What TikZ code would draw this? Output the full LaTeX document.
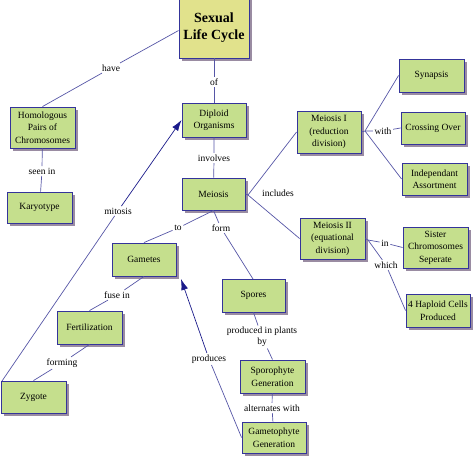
\documentclass[tikz,border=0pt]{standalone}
\usepackage{fontspec}
\setmainfont{Liberation Serif}
\usetikzlibrary{shadows,arrows.meta}
\definecolor{boxgreen}{HTML}{C5DF8D}
\definecolor{boxyellow}{HTML}{E1E28C}
\definecolor{boxborder}{HTML}{34349A}
\definecolor{linkline}{HTML}{5656A6}
\definecolor{shadowc}{HTML}{9A8CA2}
\definecolor{arrowc}{HTML}{1A1A8A}
\tikzset{
  concept/.style={draw=boxborder, line width=0.9pt, fill=boxgreen, align=center,
    font=\fontsize{9.5}{12.5}\selectfont, inner sep=1pt,
    drop shadow={shadow xshift=3pt, shadow yshift=-3pt, fill=shadowc, opacity=1}},
  linklabel/.style={font=\fontsize{9.5}{11}\selectfont, inner sep=1.5pt, align=center},
  link/.style={draw=linkline, line width=0.7pt},
  arrowlink/.style={link, -{Latex[length=11pt,width=7pt]}, arrowc},
}
\begin{document}
\begin{tikzpicture}[x=1pt,y=-1pt]
\useasboundingbox (0,0) rectangle (474,458);
% concepts
\node[concept, fill=boxyellow, minimum width=70pt, minimum height=61pt,
  font=\fontsize{14}{17}\selectfont\bfseries] (slc) at (214,27.5) {Sexual\\Life Cycle};
\node[concept, minimum width=65pt, minimum height=41pt] (hom) at (42.5,127.5) {Homologous\\Pairs of\\Chromosomes};
\node[concept, minimum width=65pt, minimum height=31pt] (kar) at (39.5,207.5) {Karyotype};
\node[concept, minimum width=64pt, minimum height=34pt] (dip) at (214,120) {Diploid\\Organisms};
\node[concept, minimum width=63pt, minimum height=32pt] (mei) at (213.5,194) {Meiosis};
\node[concept, minimum width=64pt, minimum height=42pt] (m1) at (329,132) {Meiosis I\\(reduction\\division)};
\node[concept, minimum width=65pt, minimum height=33pt] (syn) at (431.5,75.5) {Synapsis};
\node[concept, minimum width=64pt, minimum height=32pt] (cro) at (433,128) {Crossing Over};
\node[concept, minimum width=65pt, minimum height=32pt] (ind) at (434.5,179) {Independant\\Assortment};
\node[concept, minimum width=65pt, minimum height=41pt] (m2) at (332.5,238.5) {Meiosis II\\(equational\\division)};
\node[concept, minimum width=65pt, minimum height=41pt] (sis) at (435.5,247.5) {Sister\\Chromosomes\\Seperate};
\node[concept, minimum width=64pt, minimum height=33pt] (hap) at (438,310.5) {4 Haploid Cells\\Produced};
\node[concept, minimum width=63pt, minimum height=33pt] (spo) at (253.5,295.5) {Spores};
\node[concept, minimum width=65pt, minimum height=33pt] (sph) at (272.5,376.5) {Sporophyte\\Generation};
\node[concept, minimum width=64pt, minimum height=31pt] (gph) at (274,437.5) {Gametophyte\\Generation};
\node[concept, minimum width=64pt, minimum height=33pt] (gam) at (144,259.5) {Gametes};
\node[concept, minimum width=65pt, minimum height=33pt] (fer) at (89.5,327.5) {Fertilization};
\node[concept, minimum width=65pt, minimum height=32pt] (zyg) at (33.5,397) {Zygote};
% linking phrases
\node[linklabel] (have) at (111,68) {have};
\node[linklabel] (of) at (214,82) {of};
\node[linklabel] (seen) at (42,171) {seen in};
\node[linklabel] (inv) at (214,158) {involves};
\node[linklabel] (mit) at (118,211) {mitosis};
\node[linklabel] (incl) at (278,193) {includes};
\node[linklabel] (to) at (178,228) {to};
\node[linklabel] (form) at (221,228) {form};
\node[linklabel] (fuse) at (117,295) {fuse in};
\node[linklabel] (forming) at (62,363) {forming};
\node[linklabel] (prod) at (209,359) {produces};
\node[linklabel] (pip) at (262,337) {produced in plants\\by};
\node[linklabel] (alt) at (272,408) {alternates with};
\node[linklabel] (with) at (383,131) {with};
\node[linklabel] (in) at (385,243) {in};
\node[linklabel] (which) at (386,265) {which};
% junctions
\coordinate (j1) at (248,195);
\coordinate (j2) at (365,131);
\coordinate (j3) at (368,240);
\coordinate (zc) at (2,381);
\coordinate (gtip) at (181,279);
% connectors
\draw[link] (slc.west) ++(0,3) -- (have) -- (hom.north);
\draw[link] (slc) -- (of) -- (dip);
\draw[link] (hom) -- (seen) -- (kar);
\draw[link] (dip) -- (inv) -- (mei);
\draw[link] (mei.east) -- (j1) -- (m1.west);
\draw[link] (j1) -- (m2.west);
\draw[link] (mei.south) -- (to) -- (gam.north);
\draw[link] (mei.south) -- (form) -- (253,279);
\draw[link] (gam.south) -- (fuse) -- (fer.north);
\draw[link] (fer.south) -- (forming) -- (zyg.north);
\draw[link] (spo.south) -- (pip) -- (sph.north);
\draw[link] (sph) -- (alt) -- (gph);
\draw[link] (m1.east) -- (j2) -- (syn.west);
\draw[link] (j2) -- (with) -- (cro.west);
\draw[link] (j2) -- (ind.west);
\draw[link] (m2.east) -- (j3) -- (in) -- (sis.west);
\draw[link] (j3) -- (which) -- (hap.west);
\draw[link] (zc) -- (mit);
\draw[arrowlink] (mit) -- (dip.west);
\draw[link] (gph.west) -- (prod);
\draw[arrowlink] (prod) -- (gtip);
\end{tikzpicture}
\end{document}
